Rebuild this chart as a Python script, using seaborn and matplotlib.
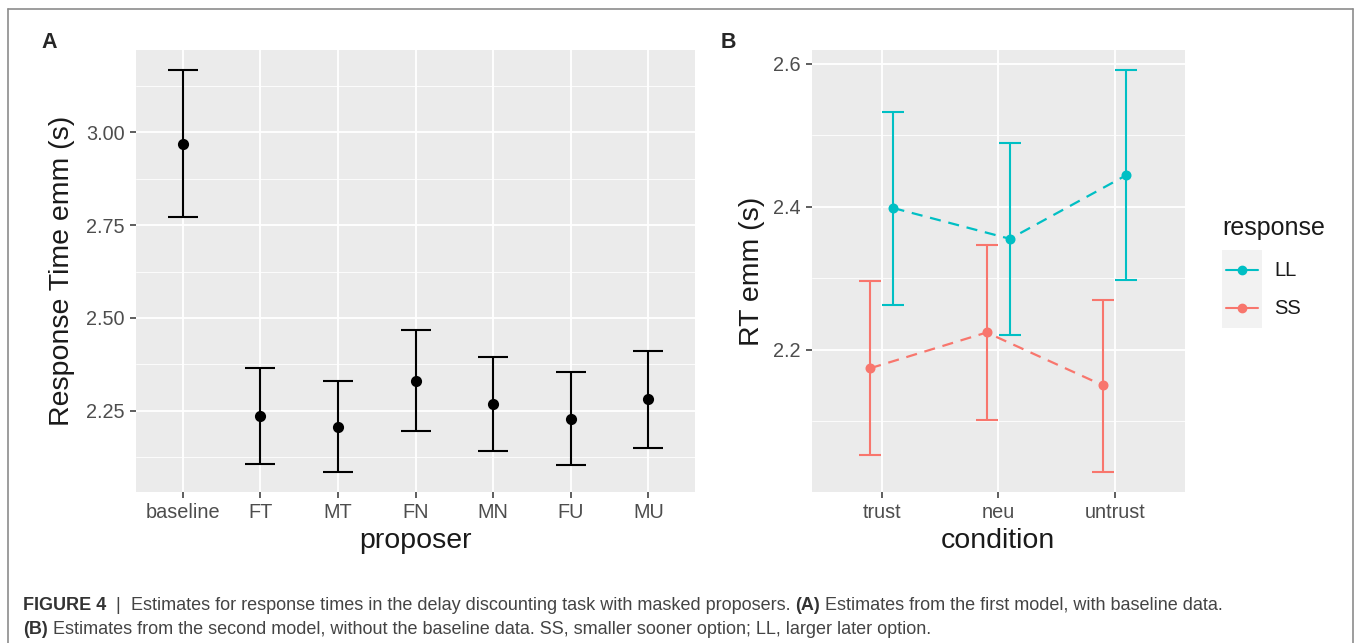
import numpy as np
import pandas as pd
import matplotlib
matplotlib.use("Agg")
import matplotlib.pyplot as plt
import seaborn as sns
from matplotlib.ticker import MultipleLocator, FormatStrFormatter
from matplotlib.lines import Line2D
from matplotlib.patches import Rectangle

# ---------------- data ----------------
proposer = ["baseline", "FT", "MT", "FN", "MN", "FU", "MU"]
emm_a = [2.970, 2.235, 2.207, 2.330, 2.268, 2.228, 2.282]
lower_a = [2.771, 2.106, 2.085, 2.196, 2.142, 2.104, 2.149]
upper_a = [3.168, 2.365, 2.330, 2.467, 2.394, 2.354, 2.412]

condition = ["trust", "neu", "untrust"]
responses = ["LL", "SS"]
ll_emm = [2.398, 2.355, 2.444]
ll_lower = [2.263, 2.220, 2.298]
ll_upper = [2.533, 2.489, 2.591]
ss_emm = [2.174, 2.224, 2.150]
ss_lower = [2.053, 2.102, 2.029]
ss_upper = [2.296, 2.346, 2.270]

yticks_a = [2.25, 2.50, 2.75, 3.00]
yticks_b = [2.2, 2.4, 2.6]

caption_line1 = [("FIGURE 4", "bold"), ("  |  ", "normal"),
                 ("Estimates for response times in the delay discounting task with masked proposers. ", "normal"),
                 ("(A)", "bold"), (" Estimates from the first model, with baseline data.", "normal")]
caption_line2 = [("(B)", "bold"),
                 (" Estimates from the second model, without the baseline data. SS, smaller sooner option; LL, larger later option.", "normal")]

colors = {"LL": "#00BFC4", "SS": "#F8766D"}

# ---------------- style ----------------
sns.set_theme(style="darkgrid")
plt.rcParams["font.family"] = ["Liberation Sans", "DejaVu Sans"]
plt.rcParams["lines.dashed_pattern"] = [5, 3.5]

W, H = 1356, 643
fig = plt.figure(figsize=(W / 100, H / 100), dpi=100)
fig.patch.set_facecolor("white")


def style_axes(ax, n, ticks, fmt, minor):
    ax.set_facecolor("#EBEBEB")
    for s in ax.spines.values():
        s.set_visible(False)
    ax.set_xlim(-0.6, n - 1 + 0.6)
    ax.set_yticks(ticks)
    ax.yaxis.set_major_formatter(FormatStrFormatter(fmt))
    ax.yaxis.set_minor_locator(MultipleLocator(minor))
    ax.grid(True, which="major", axis="both", color="white", linewidth=1.3)
    ax.grid(True, which="minor", axis="y", color="white", linewidth=0.6)
    ax.set_axisbelow(True)
    ax.tick_params(axis="both", which="major", direction="out", length=4, width=1.1,
                   color="#333333", labelcolor="#4D4D4D", labelsize=14.3, pad=4,
                   bottom=True, left=True)
    ax.tick_params(axis="y", which="minor", length=0)


def expand(lo, hi):
    r = max(hi) - min(lo)
    return min(lo) - 0.05 * r, max(hi) + 0.05 * r


# ---------------- Panel A ----------------
axA = fig.add_axes([136 / W, 1 - 492 / H, (695 - 136) / W, 442 / H])
dfA = pd.DataFrame({"proposer": proposer, "emm": emm_a})
sns.pointplot(data=dfA, x="proposer", y="emm", order=proposer, color="black",
              linestyle="none", errorbar=None, markers="o", markersize=6, ax=axA, zorder=5)
xa = np.arange(len(proposer))
ea = np.array(emm_a)
axA.errorbar(xa, ea, yerr=[ea - np.array(lower_a), np.array(upper_a) - ea], fmt="none",
             ecolor="black", elinewidth=1.5, capsize=11, capthick=1.5, zorder=4)
style_axes(axA, len(proposer), yticks_a, "%.2f", 0.125)
axA.set_ylim(*expand(lower_a, upper_a))
axA.set_xlabel("proposer", fontsize=20.5, color="#1a1a1a", labelpad=4)
axA.set_ylabel("Response Time emm (s)", fontsize=20.5, color="#1a1a1a", labelpad=8)

# ---------------- Panel B ----------------
axB = fig.add_axes([812 / W, 1 - 492 / H, (1184.5 - 812) / W, 442 / H])
dfB = pd.DataFrame({
    "condition": condition * 2,
    "response": ["LL"] * 3 + ["SS"] * 3,
    "emm": ll_emm + ss_emm,
})
hue_order = ["SS", "LL"]
dodge = 0.2
sns.pointplot(data=dfB, x="condition", y="emm", hue="response", order=condition,
              hue_order=hue_order, palette=colors, dodge=dodge, errorbar=None,
              markers="o", linestyles="--", markersize=6, linewidth=1.6,
              legend=False, ax=axB)
offsets = np.arange(len(hue_order)) * dodge
offsets = offsets - offsets.mean()
series = {"LL": (ll_emm, ll_lower, ll_upper), "SS": (ss_emm, ss_lower, ss_upper)}
xb = np.arange(len(condition))
for off, resp in zip(offsets, hue_order):
    e, lo, hi = (np.array(v) for v in series[resp])
    axB.errorbar(xb + off, e, yerr=[e - lo, hi - e], fmt="none", ecolor=colors[resp],
                 elinewidth=1.5, capsize=8, capthick=1.5, zorder=3)
style_axes(axB, len(condition), yticks_b, "%.1f", 0.1)
axB.set_ylim(*expand(ll_lower + ss_lower, ll_upper + ss_upper))
axB.set_xlabel("condition", fontsize=20.5, color="#1a1a1a", labelpad=4)
axB.set_ylabel("RT emm (s)", fontsize=20.5, color="#1a1a1a", labelpad=6)

# ---------------- Legend ----------------
fig.text(1222 / W, 1 - 228 / H, "response", fontsize=18, color="#1a1a1a", va="center", ha="left")
fig.add_artist(Rectangle((1222 / W, 1 - 328 / H), 40 / W, 78 / H, transform=fig.transFigure,
                         facecolor="#F2F2F2", edgecolor="none"))
for i, resp in enumerate(responses):
    yc = 1 - (270 + 38 * i) / H
    fig.add_artist(Line2D([1226 / W, 1258 / W], [yc, yc], transform=fig.transFigure,
                          color=colors[resp], linewidth=1.5))
    fig.add_artist(Line2D([1242 / W], [yc], transform=fig.transFigure, marker="o",
                          markersize=6, color=colors[resp], linestyle="none"))
    fig.text(1274 / W, yc, resp, fontsize=14.5, color="#1a1a1a", va="center", ha="left")

# ---------------- panel labels ----------------
fig.text(41 / W, 1 - 48 / H, "A", fontsize=15.5, fontweight="bold", va="baseline", ha="left")
fig.text(721 / W, 1 - 48 / H, "B", fontsize=15.5, fontweight="bold", va="baseline", ha="left")

# ---------------- frame ----------------
fc = "#8c8c8c"
fig.add_artist(Line2D([8 / W, 1353 / W], [1 - 9 / H, 1 - 9 / H], transform=fig.transFigure, color=fc, lw=1.2))
fig.add_artist(Line2D([8 / W, 8 / W], [1 - 9 / H, -0.01], transform=fig.transFigure, color=fc, lw=1.2))
fig.add_artist(Line2D([1353 / W, 1353 / W], [1 - 9 / H, -0.01], transform=fig.transFigure, color=fc, lw=1.2))

# ---------------- caption ----------------
renderer = fig.canvas.get_renderer()


def draw_runs(x0, ybase, runs, size):
    x = x0
    for s, w in runs:
        t = fig.text(x / W, 1 - ybase / H, s, fontsize=size, fontweight=w,
                     color="#333333" if w == "bold" else "#444444",
                     va="baseline", ha="left")
        bb = t.get_window_extent(renderer=renderer)
        x += bb.width


draw_runs(23, 610, caption_line1, 13.0)
draw_runs(23, 634, caption_line2, 13.0)

fig.savefig("out.png", dpi=100)
